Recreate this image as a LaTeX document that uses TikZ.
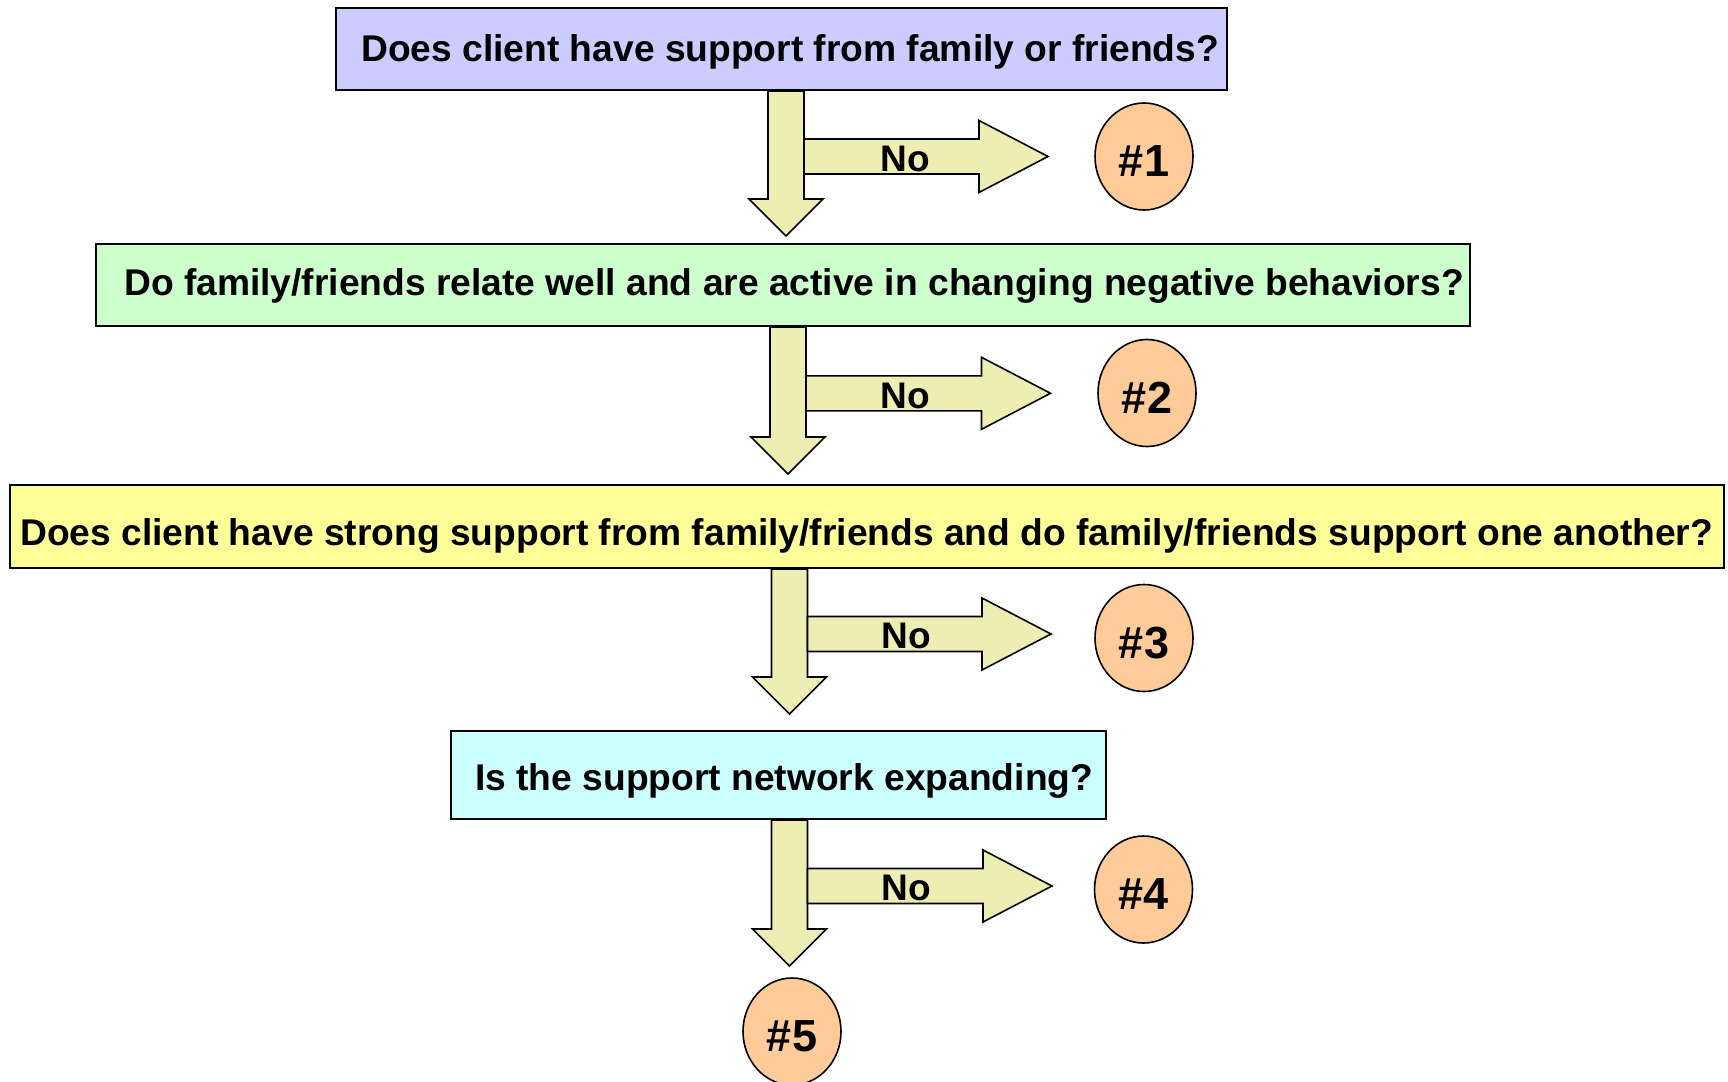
\documentclass[tikz,border=0pt]{standalone}
\usepackage{fontspec}
\setmainfont{Liberation Sans}
\usetikzlibrary{calc,shapes.geometric}

\definecolor{qblue}{HTML}{CCCCFF}
\definecolor{qgreen}{HTML}{CCFFCC}
\definecolor{qyellow}{HTML}{FFFF99}
\definecolor{qcyan}{HTML}{CCFFFF}
\definecolor{arrowfill}{HTML}{EEEEB4}
\definecolor{outcome}{HTML}{FFCC99}

\tikzset{
  qbox/.style={draw=black, line width=2pt, rectangle, inner sep=0pt},
  qtext/.style={anchor=base west, inner sep=0pt, font=\bfseries\fontsize{37.2}{44}\selectfont},
  notext/.style={anchor=base, inner sep=0pt, font=\bfseries\fontsize{37}{44}\selectfont},
  outcomenode/.style={ellipse, draw=black, line width=1.6pt, fill=outcome,
    minimum width=98pt, minimum height=107pt, inner sep=0pt},
  outcometext/.style={anchor=base, inner sep=0pt, font=\bfseries\fontsize{45}{54}\selectfont},
  blockarrow/.style={draw=black, line width=1.6pt, fill=arrowfill, line join=miter},
}

% downward block arrow from #1 (top centre of shaft) to #2 (tip)
\newcommand{\vblock}[2]{%
  \draw[blockarrow] let \p1=(#1), \p2=(#2) in
    (\x1-18pt,\y1) -- (\x1-18pt,\y2+37pt) -- (\x1-37pt,\y2+37pt) -- (\x2,\y2)
    -- (\x1+37pt,\y2+37pt) -- (\x1+18pt,\y2+37pt) -- (\x1+18pt,\y1) -- cycle;}
% rightward block arrow from #1 (left centre of shaft) to #2 (tip)
\newcommand{\hblock}[2]{%
  \draw[blockarrow] let \p1=(#1), \p2=(#2) in
    (\x1,\y1+17.5pt) -- (\x2-69pt,\y1+17.5pt) -- (\x2-69pt,\y1+36pt) -- (\x2,\y2)
    -- (\x2-69pt,\y1-36pt) -- (\x2-69pt,\y1-17.5pt) -- (\x1,\y1-17.5pt) -- cycle;}

\begin{document}
\begin{tikzpicture}[x=1pt,y=-1pt]
\useasboundingbox (0,0) rectangle (1728,1081);

% question boxes
\node[qbox, fill=qblue,   minimum width=891pt,  minimum height=82pt] (q1) at (781.5,49) {};
\node[qbox, fill=qgreen,  minimum width=1374pt, minimum height=82pt] (q2) at (783,285) {};
\node[qbox, fill=qyellow, minimum width=1714pt, minimum height=83pt] (q3) at (867,526.5) {};
\node[qbox, fill=qcyan,   minimum width=655pt,  minimum height=88pt] (q4) at (778.5,775) {};

\node[qtext] (q1t) at (361,61)  {Does client have support from family or friends?};
\node[qtext] (q2t) at (124,295) {Do family/friends relate well and are active in changing negative behaviors?};
\node[qtext] (q3t) at (20,545)  {Does client have strong support from family/friends and do family/friends support one another?};
\node[qtext] (q4t) at (475,790) {Is the support network expanding?};

% outcome circles
\node[outcomenode] (c1) at (1144,156.5) {};
\node[outcomenode] (c2) at (1147,393) {};
\node[outcomenode] (c3) at (1144,638) {};
\node[outcomenode] (c4) at (1143.5,889.5) {};
\node[outcomenode] (c5) at (792,1031.5) {};
\node[outcometext] (c1t) at ($(c1.center)+(0,20)$) {\#1};
\node[outcometext] (c2t) at ($(c2.center)+(0,20)$) {\#2};
\node[outcometext] (c3t) at ($(c3.center)+(0,20)$) {\#3};
\node[outcometext] (c4t) at ($(c4.center)+(0,20)$) {\#4};
\node[outcometext] (c5t) at ($(c5.center)+(0,20)$) {\#5};

% arrow end points
\coordinate (d1s) at (786,0 |- q1.south);
\coordinate (d1e) at (786,236);
\coordinate (d2s) at (788,0 |- q2.south);
\coordinate (d2e) at (788,474);
\coordinate (d3s) at (789.5,0 |- q3.south);
\coordinate (d3e) at (789.5,714);
\coordinate (d4s) at (789.5,0 |- q4.south);
\coordinate (d4e) at (789.5,966);

\coordinate (r1s) at (804,156.5);
\coordinate (r1e) at (1048,156.5);
\coordinate (r2s) at (806,393.3);
\coordinate (r2e) at (1050.5,393.3);
\coordinate (r3s) at (807.5,634);
\coordinate (r3e) at (1051,634);
\coordinate (r4s) at (807.5,886);
\coordinate (r4e) at (1052,886);

% block arrows
\vblock{d1s}{d1e}
\hblock{r1s}{r1e}
\vblock{d2s}{d2e}
\hblock{r2s}{r2e}
\vblock{d3s}{d3e}
\hblock{r3s}{r3e}
\vblock{d4s}{d4e}
\hblock{r4s}{r4e}

% "No" labels
\node[notext] (n1) at (905,171.2) {No};
\node[notext] (n2) at (905,408) {No};
\node[notext] (n3) at (906,648.7) {No};
\node[notext] (n4) at (906,900.7) {No};
\end{tikzpicture}
\end{document}
